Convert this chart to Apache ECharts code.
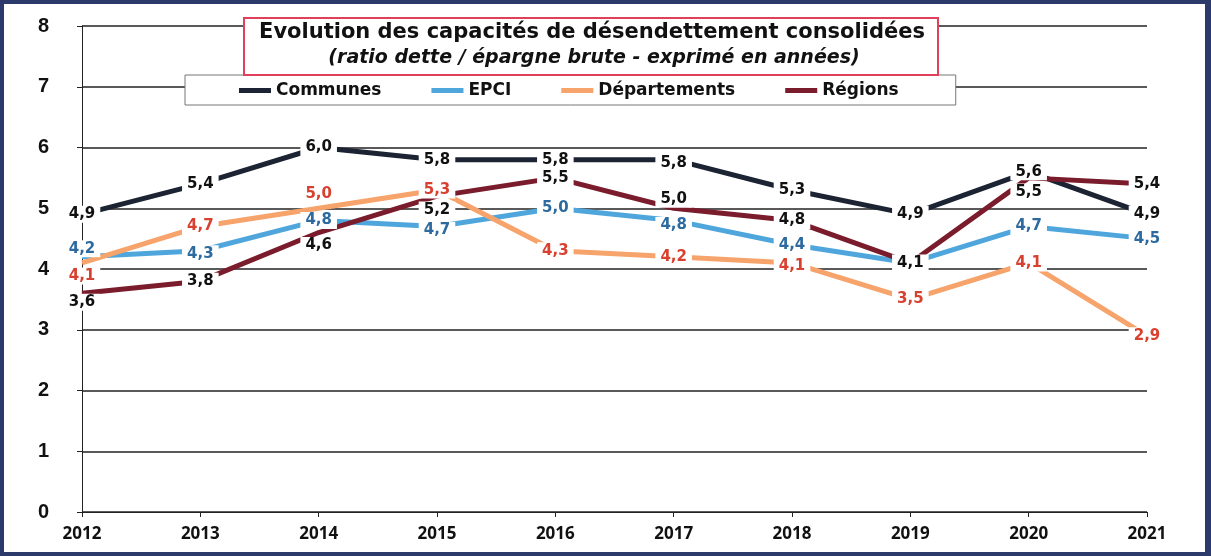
<!DOCTYPE html>
<html>
<head>
<meta charset="utf-8">
<script src="https://cdn.jsdelivr.net/npm/echarts@6/dist/echarts.min.js"></script>
<style>
  html, body { margin: 0; padding: 0; background: #fff; }
  #chart { width: 1211px; height: 556px; box-sizing: border-box; border: 4px solid #2b3a6b; border-right-width: 6px; }
</style>
</head>
<body>
<div id="chart"></div>
<script>
  // données
  var years = ['2012', '2013', '2014', '2015', '2016', '2017', '2018', '2019', '2020', '2021'];
  var communes = [4.9, 5.4, 6.0, 5.8, 5.8, 5.8, 5.3, 4.9, 5.6, 4.9];
  var epci = [4.2, 4.3, 4.8, 4.7, 5.0, 4.8, 4.4, 4.1, 4.7, 4.5];
  var departements = [4.1, 4.7, 5.0, 5.3, 4.3, 4.2, 4.1, 3.5, 4.1, 2.9];
  var regions = [3.6, 3.8, 4.6, 5.2, 5.5, 5.0, 4.8, 4.1, 5.5, 5.4];
  var yTicks = [0, 1, 2, 3, 4, 5, 6, 7, 8];

  // décalage vertical des étiquettes (null = étiquette masquée)
  var offCommunes = [0, 0, 0, 0, 0, 3, 0, 0, 0, 0];
  var offEpci = [-8, 3, 0, 4, 0, 5, 0, null, 0, 0];
  var offDep = [13, 0, -14, 0, 0, 0, 3, 0, 0, 0];
  var offReg = [9, 0, 13, 14, 0, -9, 0, 0, 14, 0];

  var chart = echarts.init(document.getElementById('chart'));

  function makeSeries(name, data, offsets, color, labelColor) {
    return {
      name: name,
      type: 'line',
      data: data,
      symbol: 'circle',
      symbolSize: 1,
      showSymbol: true,
      lineStyle: { width: 5, color: color },
      itemStyle: { color: color },
      z: 3,
      label: {
        show: true,
        position: 'inside',
        formatter: function (p) {
          if (offsets[p.dataIndex] === null) return '';
          return p.value.toFixed(1).replace('.', ',');
        },
        color: labelColor,
        fontFamily: 'DejaVu Sans',
        fontWeight: 'bold',
        fontSize: 15,
        backgroundColor: '#fff',
        padding: [1, 5]
      },
      labelLayout: function (p) {
        var o = offsets[p.dataIndex];
        return { dy: o || 0, hideOverlap: false };
      }
    };
  }

  chart.setOption({
    animation: false,
    grid: { left: 78, right: 58, top: 22, bottom: 40 },
    legend: {
      data: ['Communes', 'EPCI', 'Départements', 'Régions'],
      left: 181,
      top: 71,
      padding: [7, 57, 6, 54],
      itemGap: 50,
      itemWidth: 32,
      itemHeight: 5,
      icon: 'rect',
      borderColor: '#777',
      borderWidth: 1,
      backgroundColor: '#fff',
      textStyle: { fontFamily: 'DejaVu Sans', fontWeight: 'bold', fontSize: 17, color: '#111' }
    },
    graphic: [
      {
        type: 'rect', left: 239, top: 13, z: 10,
        shape: { width: 694, height: 57 },
        style: { fill: '#fff', stroke: '#e0405a', lineWidth: 2 }
      },
      {
        type: 'text', x: 588, y: 18, z: 11,
        style: { text: 'Evolution des capacités de désendettement consolidées', textAlign: 'center',
          font: 'bold 21px "DejaVu Sans"', fill: '#111' }
      },
      {
        type: 'text', x: 590, y: 45, z: 11,
        style: { text: '(ratio dette / épargne brute - exprimé en années)', textAlign: 'center',
          font: 'italic bold 19px "DejaVu Sans"', fill: '#111' }
      }
    ],
    xAxis: {
      type: 'category',
      data: years,
      boundaryGap: false,
      axisLine: { lineStyle: { color: '#222', width: 1 } },
      axisTick: { show: true, length: 5, lineStyle: { color: '#222' } },
      axisLabel: { color: '#111', fontFamily: 'Noto Sans', fontWeight: 'bold', fontSize: 17, margin: 14 }
    },
    yAxis: {
      type: 'value',
      min: yTicks[0],
      max: yTicks[yTicks.length - 1],
      interval: 1,
      axisLine: { show: true, lineStyle: { color: '#222', width: 1 } },
      axisTick: { show: true, length: 5, lineStyle: { color: '#222' } },
      splitLine: { lineStyle: { color: '#222', width: 1.5 } },
      axisLabel: { color: '#111', fontFamily: 'Liberation Sans', fontWeight: 'bold', fontSize: 20, margin: 33 }
    },
    series: [
      makeSeries('Communes', communes, offCommunes, '#1c2433', '#111'),
      makeSeries('EPCI', epci, offEpci, '#4fa6dc', '#2d6a9f'),
      makeSeries('Départements', departements, offDep, '#f6a36c', '#d8402f'),
      makeSeries('Régions', regions, offReg, '#7a1c2c', '#111')
    ]
  });
</script>
</body>
</html>
